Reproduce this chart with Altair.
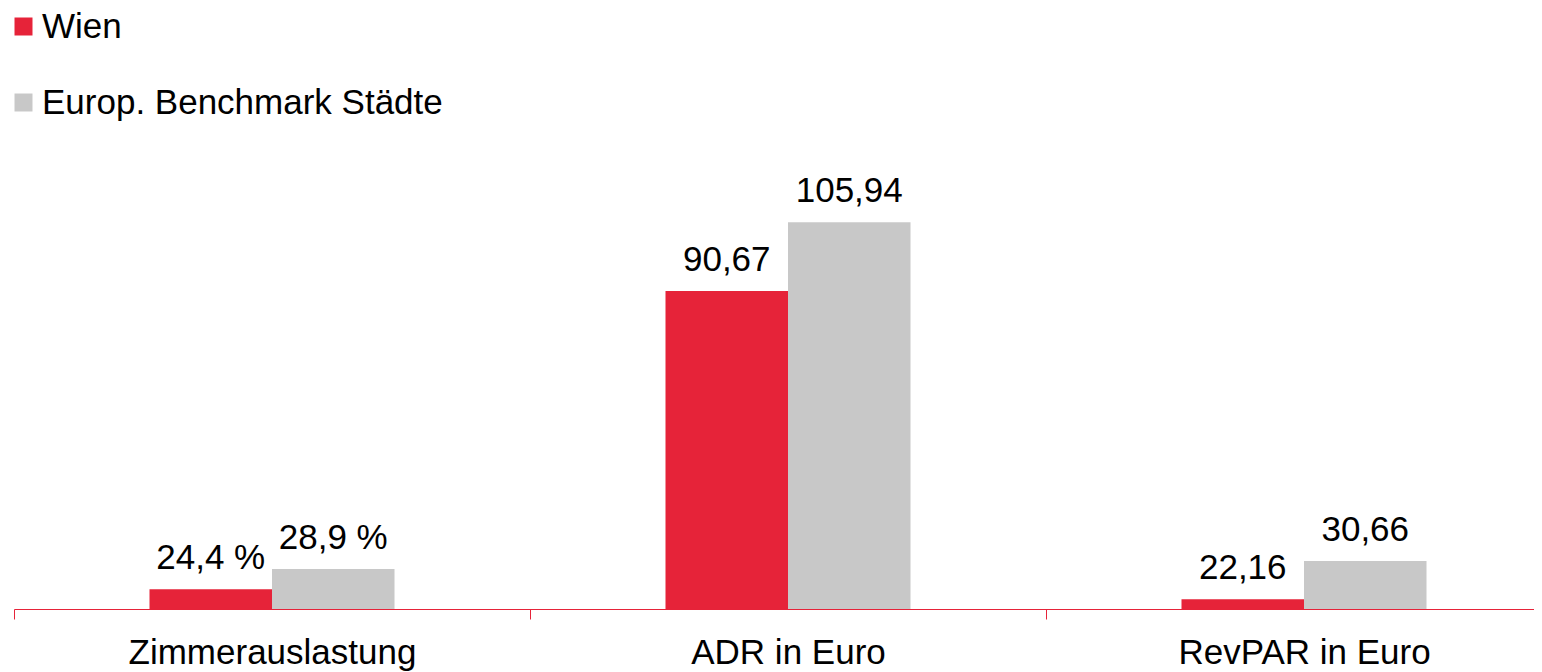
import altair as alt
import pandas as pd

categories = ["Zimmerauslastung", "ADR in Euro", "RevPAR in Euro"]
series = ["Wien", "Europ. Benchmark Städte"]
wien_values = [24.4, 90.67, 22.16]
benchmark_values = [28.9, 105.94, 30.66]
wien_labels = ["24,4 %", "90,67", "22,16"]
benchmark_labels = ["28,9 %", "105,94", "30,66"]
colors = ["#E62339", "#C8C8C8"]
y_domain = [20, 120]

rows = []
for i, c in enumerate(categories):
    rows.append({"kategorie": c, "serie": series[0], "wert": wien_values[i], "label": wien_labels[i]})
    rows.append({"kategorie": c, "serie": series[1], "wert": benchmark_values[i], "label": benchmark_labels[i]})
df = pd.DataFrame(rows)

FONT = "Liberation Sans, Arial, Helvetica, sans-serif"

x = alt.X(
    "kategorie:N", sort=categories, title=None,
    scale=alt.Scale(paddingInner=0, paddingOuter=0),
    axis=alt.Axis(labelAngle=0, labelFontSize=35, labelFont=FONT, labelColor="#000000",
                  domainColor="#E62339", domainWidth=1, tickColor="#E62339", tickWidth=1,
                  tickSize=10, tickBand="extent", labelPadding=16, grid=False, labelLimit=600),
)
xo = alt.XOffset("serie:N", sort=series,
                 scale=alt.Scale(domain=series, range=[135.5, 380.5], paddingInner=0, paddingOuter=0))
y = alt.Y("wert:Q", scale=alt.Scale(domain=y_domain, zero=False, nice=False), axis=None)

bars = alt.Chart(df).mark_bar().encode(
    x=x, xOffset=xo, y=y, y2=alt.datum(y_domain[0]),
    color=alt.Color(
        "serie:N", sort=series,
        scale=alt.Scale(domain=series, range=colors),
        legend=alt.Legend(title=None, orient="none", legendX=-8, legendY=-150, direction="vertical",
                          symbolType="square", symbolSize=324, symbolStrokeWidth=0, symbolOpacity=1,
                          labelFontSize=35, labelFont=FONT, labelColor="#000000", labelOffset=1,
                          rowPadding=40, padding=0, labelLimit=600),
    ),
)
text = alt.Chart(df).mark_text(fontSize=35, font=FONT, baseline="alphabetic", dy=-20, color="#000000").encode(
    x=x, xOffset=xo, y=y, text="label:N"
)

chart = (bars + text).properties(
    width=1548, height=450,
    autosize=alt.AutoSizeParams(type="none"),
    padding={"left": 6, "top": 151, "right": -28, "bottom": 62},
).configure_view(stroke=None)

chart.save("out.html", embed_options={"renderer": "svg", "actions": False})
